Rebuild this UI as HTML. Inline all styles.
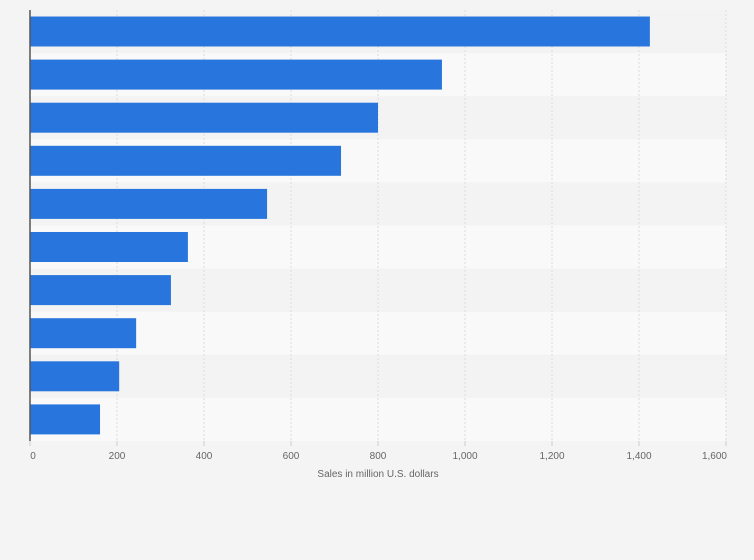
<!DOCTYPE html>
<html><head><meta charset="utf-8"><style>
body{margin:0;background:#f4f4f4;font-family:"Liberation Sans",sans-serif}
</style></head><body>
<svg id="c" width="754" height="560" style="display:block"></svg>
<script>
const values=[1425,947,800,715,545,363,324,244,205,161];
const ticks=[0,200,400,600,800,1000,1200,1400,1600];
const tickLabels=["0","200","400","600","800","1,000","1,200","1,400","1,600"];
const svg=document.getElementById('c');
const NS='http://www.w3.org/2000/svg';
const x0=30,x1=726,topY=10,rowH=43.1;
const x=v=>x0+(v/1600)*(x1-x0);
function el(t,a,p){const e=document.createElementNS(NS,t);for(const k in a)e.setAttribute(k,a[k]);(p||svg).appendChild(e);return e;}
values.forEach((v,i)=>{
 const r=el('rect',{x:x0,y:topY+i*rowH,width:x1-x0,height:rowH,fill:i%2?'#f9f9f9':'#f3f3f3'});
 
 
});
ticks.forEach((t,i)=>{
 if(i>0){const g=el('line',{x1:x(t),x2:x(t),y1:topY,y2:topY+rowH*10,stroke:'#dcdcdc','stroke-dasharray':'2,2'});
 
 }
 const tk=el('line',{x1:x(t),x2:x(t),y1:topY+rowH*10,y2:topY+rowH*10+5,stroke:'#ccc'});
 
 
 const tx=el('text',{x:x(t)+(i==0?3:0),y:459,'font-size':10,fill:'#666','text-anchor':i==ticks.length-1?'end':'middle'});
 if(i==ticks.length-1)tx.setAttribute('x',x(t)+1);
 tx.textContent=tickLabels[i];
 
 
});
values.forEach((v,i)=>{
 const b=el('rect',{x:x0,y:topY+i*rowH+6.5,width:x(v)-x0,height:30,fill:'#2876dd'});
 
 
});
const ax=el('line',{x1:x0,x2:x0,y1:topY,y2:topY+rowH*10,stroke:'#555','stroke-width':1.5});


const at=el('text',{x:378,y:477,'font-size':10,fill:'#666','text-anchor':'middle'});
at.textContent='Sales in million U.S. dollars';


</script>
</body></html>
